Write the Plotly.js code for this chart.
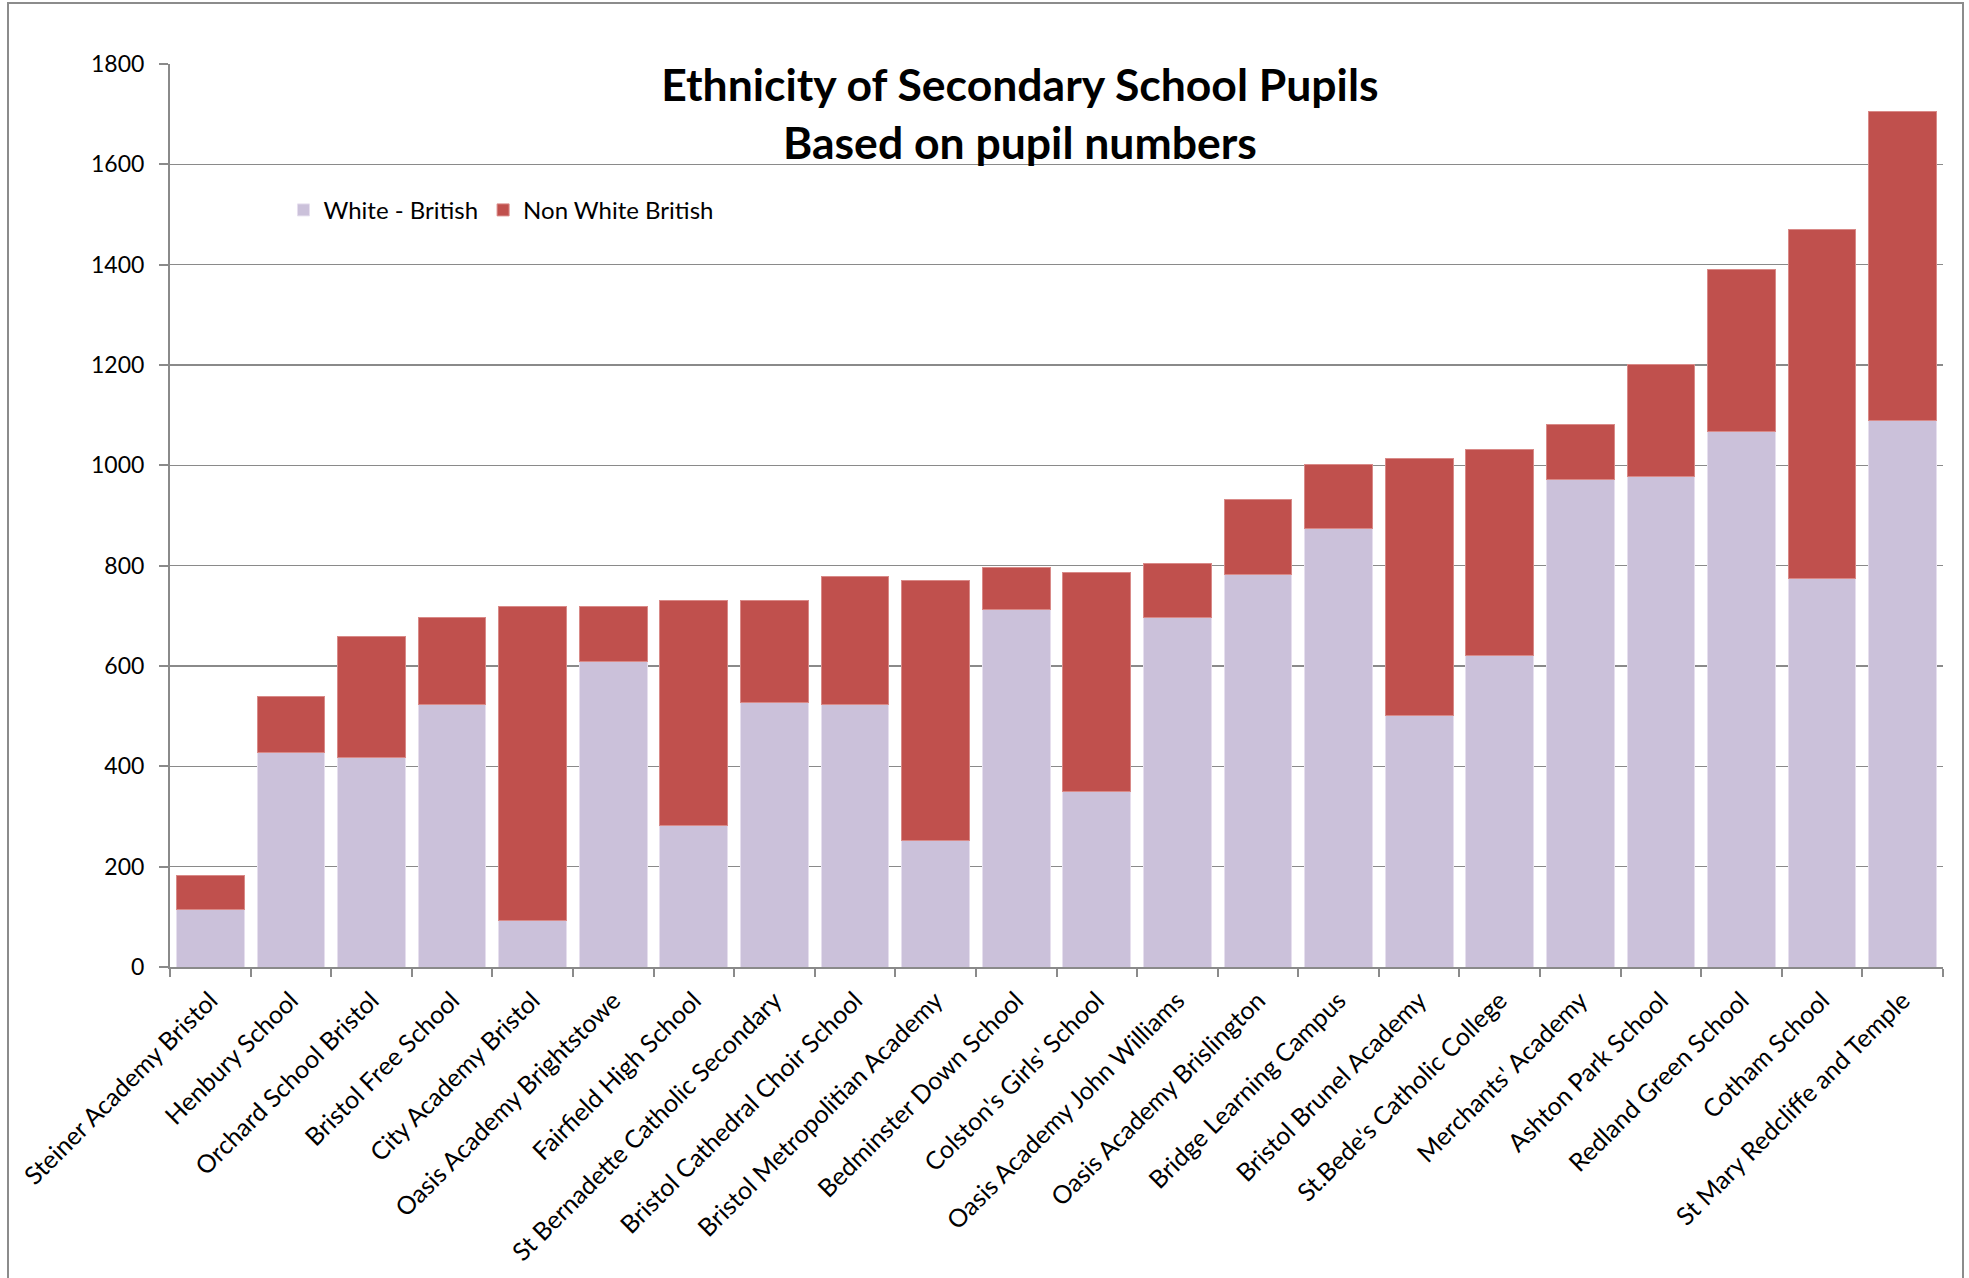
<!DOCTYPE html>
<html>
<head>
<meta charset="utf-8">
<script src="https://cdn.plot.ly/plotly-3.0.1.min.js"></script>
<style>
  html, body { margin: 0; padding: 0; background: #ffffff; }
  #wrap { position: relative; width: 1969px; height: 1278px; overflow: hidden; }
  #chart { width: 1969px; height: 1278px; }
  #frame { position: absolute; left: 7px; top: 2px; width: 1957px; height: 1300px;
           border: 2px solid #8c8c8c; pointer-events: none; box-sizing: border-box; }
</style>
</head>
<body>
<div id="wrap">
  <div id="chart"></div>
  <div id="frame"></div>
</div>
<script>
const schools = [
  "Steiner Academy Bristol", "Henbury School", "Orchard School Bristol", "Bristol Free School",
  "City Academy Bristol", "Oasis Academy Brightstowe", "Fairfield High School",
  "St Bernadette Catholic Secondary", "Bristol Cathedral Choir School", "Bristol Metropolitian Academy",
  "Bedminster Down School", "Colston's Girls' School", "Oasis Academy John Williams",
  "Oasis Academy Brislington", "Bridge Learning Campus", "Bristol Brunel Academy",
  "St.Bede's Catholic College", "Merchants' Academy", "Ashton Park School",
  "Redland Green School", "Cotham School", "St Mary Redcliffe and Temple"
];
const whiteBritish = [115, 428, 418, 524, 93, 609, 282, 527, 523, 252, 713, 349, 697, 782, 875, 502, 620, 971, 977, 1068, 774, 1090];
const nonWhiteBritish = [68, 112, 241, 173, 625, 109, 448, 204, 256, 519, 84, 438, 107, 150, 126, 511, 411, 110, 225, 322, 697, 615];
const yTicks = [0, 200, 400, 600, 800, 1000, 1200, 1400, 1600, 1800];

const FONT = "Lato, 'Open Sans', 'DejaVu Sans', sans-serif";
const GRID = "#8a8a8a";

const traces = [
  {
    type: "bar", name: "White - British", x: schools, y: whiteBritish,
    marker: { color: "#CBC1DA", line: { color: "#e6dfee", width: 1 } }
  },
  {
    type: "bar", name: "Non White British", x: schools, y: nonWhiteBritish,
    marker: { color: "#C0504D", line: { color: "#d98a88", width: 1 } }
  }
];

const layout = {
  width: 1969, height: 1278,
  paper_bgcolor: "#ffffff", plot_bgcolor: "#ffffff",
  margin: { l: 170, r: 26, t: 64, b: 311, pad: 0 },
  barmode: "stack", bargap: 0.16,
  font: { family: FONT, color: "#000000", size: 22 },
  title: {
    text: "Ethnicity of Secondary School Pupils<br>Based on pupil numbers",
    font: { family: FONT, size: 44.5, color: "#000000", weight: "bold" },
    xref: "container", x: 0.518, xanchor: "center",
    yref: "container", y: 0.921, yanchor: "middle"
  },
  showlegend: true,
  legend: {
    orientation: "h", x: 0.064, xanchor: "left", y: 0.838, yanchor: "middle",
    font: { family: FONT, size: 24, color: "#000000" },
    bgcolor: "rgba(0,0,0,0)", traceorder: "normal", itemwidth: 30
  },
  xaxis: {
    type: "category", tickangle: -45, tickson: "boundaries",
    ticks: "outside", ticklen: 8, tickwidth: 2, tickcolor: GRID,
    showline: true, linecolor: GRID, linewidth: 2,
    showgrid: false, zeroline: false,
    tickfont: { family: FONT, size: 25, color: "#000000" },
    ticklabelstandoff: 7
  },
  yaxis: {
    range: [0, 1800], tickmode: "array", tickvals: yTicks,
    ticks: "outside", ticklen: 9, tickwidth: 2, tickcolor: GRID,
    showline: true, linecolor: GRID, linewidth: 2,
    showgrid: true, gridcolor: GRID, gridwidth: 1.5, zeroline: false,
    tickfont: { family: FONT, size: 23, color: "#000000" },
    ticklabelstandoff: 10
  }
};

Plotly.newPlot("chart", traces, layout, { staticPlot: true, displayModeBar: false });
</script>
</body>
</html>
